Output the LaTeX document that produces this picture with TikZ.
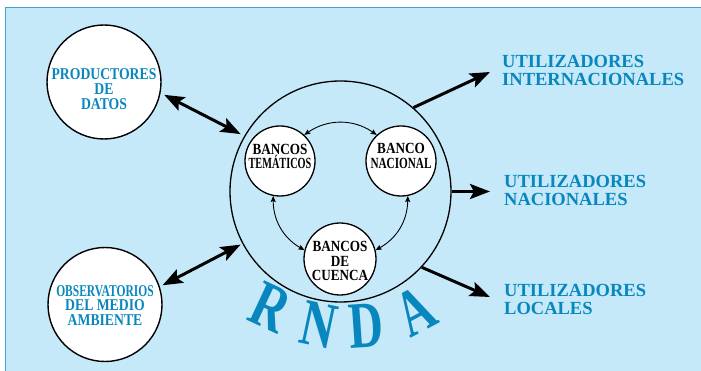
\documentclass[tikz,border=0pt]{standalone}
\usepackage{fontspec}
\usepackage{graphicx}
\setmainfont{Liberation Serif}
\newfontfamily\condA[FakeStretch=0.83]{Liberation Serif}
\newfontfamily\condB[FakeStretch=0.85]{Liberation Serif}
\usetikzlibrary{arrows.meta}
\definecolor{bgblue}{RGB}{198,233,249}
\definecolor{frameblue}{RGB}{70,160,205}
\definecolor{txtblue}{RGB}{8,135,190}
\begin{document}
\begin{tikzpicture}[x=1pt,y=-1pt,
  outer/.style={circle, draw, fill=white, line width=1.4pt, minimum size=114pt, inner sep=0pt},
  bank/.style={circle, draw, fill=white, line width=1.3pt, minimum size=70pt, inner sep=0pt},
  bluelbl/.style={text=txtblue, font=\condA\bfseries\fontsize{16.5}{14.8}\selectfont, align=center, inner sep=0pt},
  blacklbl/.style={text=black, font=\condB\bfseries\fontsize{15.5}{14.5}\selectfont, align=center, inner sep=0pt},
  userlbl/.style={text=txtblue, font=\bfseries\fontsize{18.5}{18}\selectfont, align=left, anchor=north west, inner sep=0pt},
  bighead/.tip={Stealth[length=20pt,width=15pt,inset=4pt]},
  smallhead/.tip={Stealth[length=6pt,width=5pt,inset=1pt]},
  bigarrow/.style={-bighead, line width=3pt},
  bigboth/.style={bighead-bighead, line width=3pt, shorten <=4pt, shorten >=4pt},
  bankarrow/.style={smallhead-smallhead, line width=0.9pt},
  rndaletter/.style={text=txtblue, font=\bfseries\fontsize{66}{66}\selectfont, inner sep=0pt}
]
\path[use as bounding box] (0,0) rectangle (701,371);
\clip (0,0) rectangle (701,371);
\draw[frameblue, fill=bgblue, line width=1pt] (5.5,7.5) rectangle (720,390);

% big RNDA circle
\node[circle, draw, line width=1.3pt, minimum size=221pt, inner sep=0pt] (rnda) at (340.5,191.5) {};

% outer circles
\node[outer, label={[bluelbl, yshift=-7pt]center:{PRODUCTORES\\DE\\DATOS}}] (prod) at (104,82) {};
\node[outer, label={[bluelbl, yshift=-1pt]center:{\scalebox{0.84}[1]{OBSERVATORIOS}\\DEL MEDIO\\AMBIENTE}}] (obs) at (105,304.5) {};

% banks
\node[bank, label={[blacklbl, yshift=4.5pt]center:{BANCOS\\\scalebox{0.78}[1]{TEMÁTICOS}}}] (tem) at (280,161) {};
\node[bank, label={[blacklbl, yshift=5pt]center:{BANCO\\\scalebox{0.85}[1]{NACIONAL}}}] (nac) at (401,161) {};
\node[bank, minimum size=72pt, label={[blacklbl, yshift=-2pt]center:{BANCOS\\DE\\CUENCA}}] (cue) at (340,259) {};

% bank arrows
\draw[bankarrow] (tem.47) to[bend left=35] (nac.133);
\draw[bankarrow] (tem.259) to[bend right=30] (cue.166);
\draw[bankarrow] (nac.281) to[bend left=30] (cue.14);

% input arrows
\draw[bigboth] (prod.-11) -- (rnda.150.5);
\draw[bigboth, shorten <=3pt, shorten >=2pt] (obs.18) -- (rnda.208);

% users
\node[userlbl] (uint) at (502,55.5) {UTILIZADORES\\INTERNACIONALES};
\node[userlbl] (unac) at (504,175) {UTILIZADORES\\NACIONALES};
\node[userlbl] (uloc) at (504,284) {UTILIZADORES\\LOCALES};

\coordinate (tint) at (490,72);
\coordinate (tnac) at (490,191.5);
\coordinate (tloc) at (490,297);
\draw[bigarrow] (rnda.49.4) -- (tint);
\draw[bigarrow] (rnda.0) -- (tnac);
\draw[bigarrow] (rnda.-43) -- (tloc);

% RNDA letters
\node[rndaletter, rotate=-25] (lR) at (271,307) {\scalebox{0.74}[1]{R}};
\node[rndaletter, rotate=-12] (lN) at (319,325) {\scalebox{0.72}[1]{N}};
\node[rndaletter, rotate=4] (lD) at (366,326) {\scalebox{0.72}[1]{D}};
\node[rndaletter, rotate=28] (lA) at (415,311) {\scalebox{0.72}[1]{A}};
\end{tikzpicture}
\end{document}
